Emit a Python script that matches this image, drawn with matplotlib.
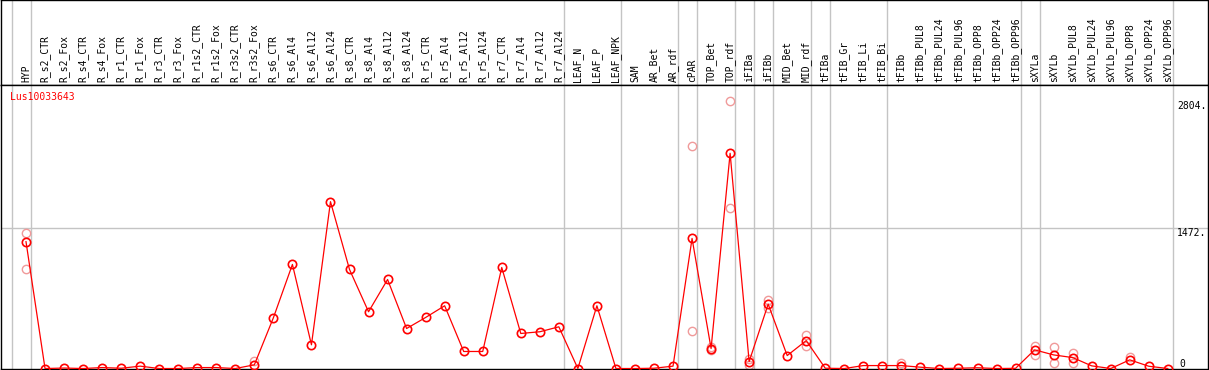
import matplotlib
matplotlib.use("Agg")
import matplotlib.pyplot as plt

# column labels (one per sample)
labels = ["HYP", "R_s2_CTR", "R_s2_Fox", "R_s4_CTR", "R_s4_Fox", "R_r1_CTR", "R_r1_Fox",
          "R_r3_CTR", "R_r3_Fox", "R_r1s2_CTR", "R_r1s2_Fox", "R_r3s2_CTR", "R_r3s2_Fox",
          "R_s6_CTR", "R_s6_Al4", "R_s6_Al12", "R_s6_Al24", "R_s8_CTR", "R_s8_Al4",
          "R_s8_Al12", "R_s8_Al24", "R_r5_CTR", "R_r5_Al4", "R_r5_Al12", "R_r5_Al24",
          "R_r7_CTR", "R_r7_Al4", "R_r7_Al12", "R_r7_Al24", "LEAF_N", "LEAF_P", "LEAF_NPK",
          "SAM", "AR_Bet", "AR_rdf", "cPAR", "TOP_Bet", "TOP_rdf", "iFIBa", "iFIBb",
          "MID_Bet", "MID_rdf", "tFIBa", "tFIB_Gr", "tFIB_Li", "tFIB_Bi", "tFIBb",
          "tFIBb_PUL8", "tFIBb_PUL24", "tFIBb_PUL96", "tFIBb_OPP8", "tFIBb_OPP24",
          "tFIBb_OPP96", "sXYLa", "sXYLb", "sXYLb_PUL8", "sXYLb_PUL24", "sXYLb_PUL96",
          "sXYLb_OPP8", "sXYLb_OPP24", "sXYLb_OPP96"]

# mean expression per sample
means = [1332, 0, 5, 0, 10, 3, 25, 0, 0, 10, 10, 0, 39,
         533, 1093, 249, 1752, 1040, 596, 935, 420, 536, 659, 179, 179, 1061, 368, 386, 438,
         0, 659, 0,
         0, 3, 25,
         1366, 210, 2260,
         73, 676,
         136, 293,
         3, 0, 31, 31,
         31, 14, 0, 3, 8, 0, 2,
         196,
         143, 115, 28, 0, 91, 24, 0]

# individual replicates that show apart from the mean
rep_idx = [0, 0, 12, 35, 35, 36, 36, 37, 37, 38, 38, 39, 39, 41, 41, 46, 53, 53, 54, 54, 55, 55, 58]
rep_val = [1426, 1048, 80, 2333, 396, 230, 190, 2804, 1685, 100, 40, 718, 640, 348, 233, 55,
           237, 143, 229, 60, 160, 55, 118]

# last column of each group -> grey separator after it
group_ends = [-1, 0, 28, 31, 34, 35, 37, 38, 39, 41, 42, 45, 52, 53, 60]

gene = "Lus10033643"
y_marks = [2804, 1472, 0]

W, H = 1209, 370
fig = plt.figure(figsize=(W / 100, H / 100), dpi=100)
xl = ((1 - 26) / 19.03, (1208 - 26) / 19.03)
mono = "DejaVu Sans Mono"

head = fig.add_axes([1 / W, 1 - 85 / H, 1207 / W, 85 / H])
ax = fig.add_axes([1 / W, 1 / H, 1207 / W, 284 / H], sharex=head)
ax.set_xlim(*xl)
head.set_ylim(0, 85)
ax.set_ylim(-5, 2977)

for a in (head, ax):
    a.set_xticks([])
    a.set_yticks([])
    for s in a.spines.values():
        s.set_color("black")
        s.set_linewidth(1)
    for g in group_ends:
        a.axvline(g + 0.263, color="#c4c4c4", lw=1, zorder=0)

for i, lab in enumerate(labels):
    head.text(i, 2.5, lab, rotation=90, ha="center", va="bottom",
              fontsize=7, family=mono, color="black")

ax.axhline(1472, color="#c4c4c4", lw=1, zorder=0)

x = list(range(len(means)))
ax.plot(rep_idx, rep_val, "o", ms=6, mfc="none", mec="#f09a9a", mew=1, zorder=2)
ax.plot(x, means, "-", color="red", lw=0.9, zorder=3)
ax.plot(x, means, "o", ms=6, mfc="none", mec="red", mew=1.2, zorder=4)

tx = (1177 - 26) / 19.03
ax.text(tx, 2804, "2804.", fontsize=7, family=mono, va="top", ha="left")
ax.text(tx, 1472, "1472.", fontsize=7, family=mono, va="top", ha="left")
ax.text(tx + 0.1, 0, "0", fontsize=7, family=mono, va="bottom", ha="left")

fig.text(10 / W, 1 - 97 / H, gene, color="red", fontsize=7, family=mono, va="center", ha="left")

fig.savefig("out.png", dpi=100)
